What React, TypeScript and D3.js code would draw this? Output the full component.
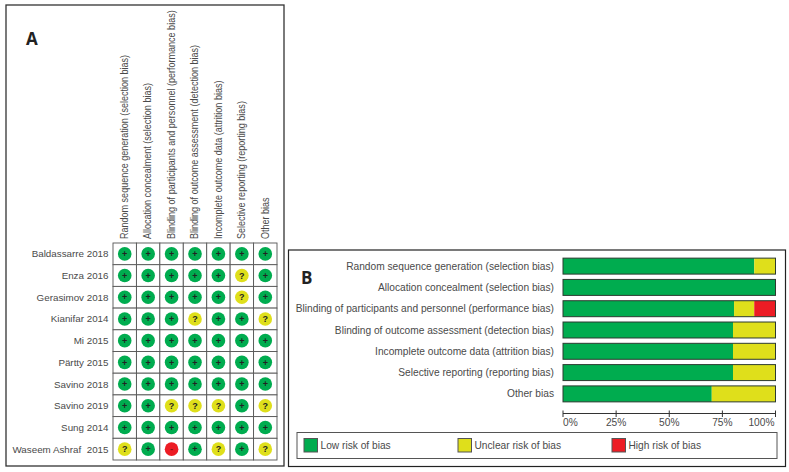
import React from "react";
import * as d3 from "d3";

const studies = ["Baldassarre 2018","Enza 2016","Gerasimov 2018","Kianifar 2014","Mi 2015","Pärtty 2015","Savino 2018","Savino 2019","Sung 2014","Waseem Ashraf  2015"];
const domains = ["Random sequence generation (selection bias)","Allocation concealment (selection bias)","Blinding of participants and personnel (performance bias)","Blinding of outcome assessment (detection bias)","Incomplete outcome data (attrition bias)","Selective reporting (reporting bias)","Other bias"];
const judgements = ["+++++++","+++++?+","+++++?+","+++?++?","+++++++","+++++++","+++++++","++???+?","+++++++","?+-+?+?"];

const barDomains = ["Random sequence generation (selection bias)","Allocation concealment (selection bias)","Blinding of participants and personnel (performance bias)","Blinding of outcome assessment (detection bias)","Incomplete outcome data (attrition bias)","Selective reporting (reporting bias)","Other bias"];
const lowRisk = [90,100,80.5,80,80,80,70];
const unclearRisk = [10,0,9.5,20,20,20,30];
const highRisk = [0,0,10,0,0,0,0];
const ticks = [0,25,50,75,100];
const legendLabels = ["Low risk of bias","Unclear risk of bias","High risk of bias"];

const GREEN="#00ac4f", YELLOW="#dfdf1b", RED="#ec1c24", TEXT="#4a4a4a", FONT="'Liberation Sans', Arial, sans-serif";
const fills:Record<string,string>={"+":GREEN,"?":YELLOW,"-":RED};

export default function App(){
  const col=d3.scaleBand<number>().domain(d3.range(domains.length)).range([113,277]);
  const row=d3.scaleBand<number>().domain(d3.range(studies.length)).range([243,460]);
  const x=d3.scaleLinear().domain([0,100]).range([563,775.5]);
  const y=d3.scaleBand<number>().domain(d3.range(barDomains.length)).range([256,404]).paddingInner(0.25).paddingOuter(0.1);
  const legendX=d3.scalePoint<number>().domain([0,1,2]).range([304,612]);
  return (
    <svg width={789} height={472} style={{position:"absolute",left:0,top:0}} fontFamily={FONT}>
      <rect width={789} height={472} fill="#fff"/>
      <rect x={6} y={5} width={278} height={461} fill="none" stroke="#333" strokeWidth={1.3}/>
      <text x={26} y={45} fontSize={17} fontWeight={700} fill="#222" fontFamily="'Open Sans', sans-serif">A</text>
      {domains.map((d,i)=>(
        <text key={d} transform={`translate(${col(i)!+col.bandwidth()/2+3.3},239) rotate(-90) scale(0.885,1)`} fontSize={10.2} fill={TEXT}>{d}</text>
      ))}
      {studies.map((s,i)=>(
        <text key={s} x={108.5} y={row(i)!+row.bandwidth()/2+3.5} textAnchor="end" fontSize={9.8} fill={TEXT} style={{whiteSpace:"pre"}}>{s}</text>
      ))}
      {studies.map((s,i)=>domains.map((d,j)=>{
        const v=judgements[i][j];
        const cx=col(j)!+col.bandwidth()/2, cy=row(i)!+row.bandwidth()/2;
        return <g key={s+d}>
          <rect x={col(j)} y={row(i)} width={col.bandwidth()} height={row.bandwidth()} fill="#fff" stroke="#555" strokeWidth={0.9}/>
          <circle cx={cx} cy={cy} r={6.8} fill={fills[v]}/>
          <text x={cx} y={cy+3.2} textAnchor="middle" fontSize={9} fontWeight={700} fill={v==="-"?"#7a1a1a":"#222"}>{v}</text>
        </g>;
      }))}

      <rect x={288.5} y={250} width={497} height={216.5} fill="none" stroke="#222" strokeWidth={1.2}/>
      <text x={301} y={284} fontSize={17} fontWeight={700} fill="#222" fontFamily="'Open Sans', sans-serif">B</text>
      {barDomains.map((d,i)=>{
        const by=y(i)!, h=y.bandwidth();
        return <g key={d}>
          <text x={554} y={by+h/2+3.5} textAnchor="end" fontSize={10.2} fill={TEXT}>{d}</text>
          <rect x={x(0)} y={by} width={x(lowRisk[i])-x(0)} height={h} fill={GREEN}/>
          {unclearRisk[i]>0&&<rect x={x(lowRisk[i])} y={by} width={x(unclearRisk[i])-x(0)} height={h} fill={YELLOW}/>}
          {highRisk[i]>0&&<rect x={x(lowRisk[i]+unclearRisk[i])} y={by} width={x(highRisk[i])-x(0)} height={h} fill={RED}/>}
          <rect x={x(0)} y={by} width={x(100)-x(0)} height={h} fill="none" stroke="#2c3a30" strokeWidth={1}/>
        </g>;
      })}
      <line x1={x(0)} x2={x(100)} y1={413.5} y2={413.5} stroke="#333"/>
      {ticks.map((t,i)=>(
        <g key={t}>
          <line x1={x(t)} x2={x(t)} y1={410.5} y2={417} stroke="#333"/>
          <text x={i===4?x(t)-1:x(t)} y={426} textAnchor={i===0?"start":i===4?"end":"middle"} fontSize={10.2} fill={TEXT}>{t}%</text>
        </g>
      ))}
      <rect x={297} y={432.5} width={480} height={26} fill="#fff" stroke="#555" strokeWidth={1}/>
      {legendLabels.map((l,i)=>(
        <g key={l}>
          <rect x={legendX(i)} y={438.5} width={13.5} height={13.5} fill={[GREEN,YELLOW,RED][i]} stroke="#555" strokeWidth={1}/>
          <text x={legendX(i)!+16.5} y={449} fontSize={10.2} fill={TEXT}>{l}</text>
        </g>
      ))}
    </svg>
  );
}
